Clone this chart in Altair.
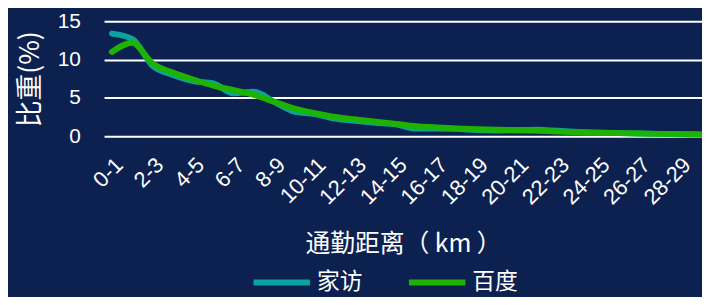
import altair as alt
import pandas as pd

categories = ["0-1", "1-2", "2-3", "3-4", "4-5", "5-6", "6-7", "7-8", "8-9", "9-10",
              "10-11", "11-12", "12-13", "13-14", "14-15", "15-16", "16-17", "17-18", "18-19", "19-20",
              "20-21", "21-22", "22-23", "23-24", "24-25", "25-26", "26-27", "27-28", "28-29", "29-30"]
jiafang = [13.4, 12.7, 9.2, 8.0, 7.2, 6.9, 5.6, 5.8, 4.5, 3.2,
           2.9, 2.3, 2.0, 1.75, 1.55, 1.0, 1.0, 0.95, 0.8, 0.75,
           0.8, 0.85, 0.7, 0.55, 0.45, 0.4, 0.35, 0.3, 0.25, 0.2]
baidu = [11.0, 12.2, 9.5, 8.3, 7.4, 6.6, 6.0, 5.4, 4.5, 3.6,
         3.0, 2.5, 2.2, 1.9, 1.6, 1.3, 1.15, 1.0, 0.9, 0.85,
         0.75, 0.7, 0.6, 0.5, 0.45, 0.4, 0.35, 0.3, 0.3, 0.25]
series_names = ["家访", "百度"]
series_colors = ["#0aa39f", "#1db300"]
y_ticks = [0, 5, 10, 15]
x_tick_labels = categories[::2]

df = pd.DataFrame({
    "dist": categories * 2,
    "value": jiafang + baidu,
    "series": [series_names[0]] * len(categories) + [series_names[1]] * len(categories),
})

CJK = "Noto Sans CJK SC"
LAT = "Liberation Sans"

x_enc = alt.X("dist:O", sort=categories,
              scale=alt.Scale(type="point", padding=0.244, align=0.8),
              axis=alt.Axis(values=x_tick_labels, labelAngle=-45, labelFontSize=22,
                            labelFont=LAT, labelColor="white", labelPadding=18,
                            domain=False, ticks=False, grid=False,
                            title="通勤距离（ km ）", titleFont=CJK, titleFontSize=25,
                            titleFontWeight="normal", titleColor="white", titlePadding=24))
y_enc = alt.Y("value:Q", scale=alt.Scale(domain=[0, 15]),
              axis=alt.Axis(values=y_ticks, labelFontSize=21, labelFont=LAT,
                            labelColor="white", labelPadding=24,
                            domain=False, ticks=False, grid=True, gridColor="white",
                            gridWidth=2, title="比重(%)", titleFont=CJK,
                            titleFontSize=27, titleFontWeight="normal",
                            titleColor="white", titlePadding=13))
color_enc = alt.Color("series:N", sort=series_names,
                      scale=alt.Scale(domain=series_names, range=series_colors),
                      legend=alt.Legend(title=None, orient="none", legendX=148, legendY=232,
                                        direction="horizontal", symbolType="stroke",
                                        symbolSize=3249, symbolStrokeWidth=6,
                                        labelFontSize=23, labelFont=CJK, labelColor="white",
                                        labelOffset=4, columnPadding=35))

base = alt.Chart(df).mark_line(interpolate="monotone", strokeWidth=6, strokeCap="round",
                               strokeJoin="round")
l1 = base.transform_filter(alt.datum.series == series_names[0]).encode(x=x_enc, y=y_enc, color=color_enc)
l2 = base.transform_filter(alt.datum.series == series_names[1]).encode(x=x_enc, y=y_enc, color=color_enc)

chart = alt.layer(l1, l2).properties(
    width=604, height=116,
    autosize=alt.AutoSizeParams(type="none"),
    padding={"left": 97, "top": 12, "right": 0, "bottom": 161},
    background="#0d2150",
).configure_view(stroke=None)

chart.save("out.html", embed_options={"renderer": "svg", "actions": False})
